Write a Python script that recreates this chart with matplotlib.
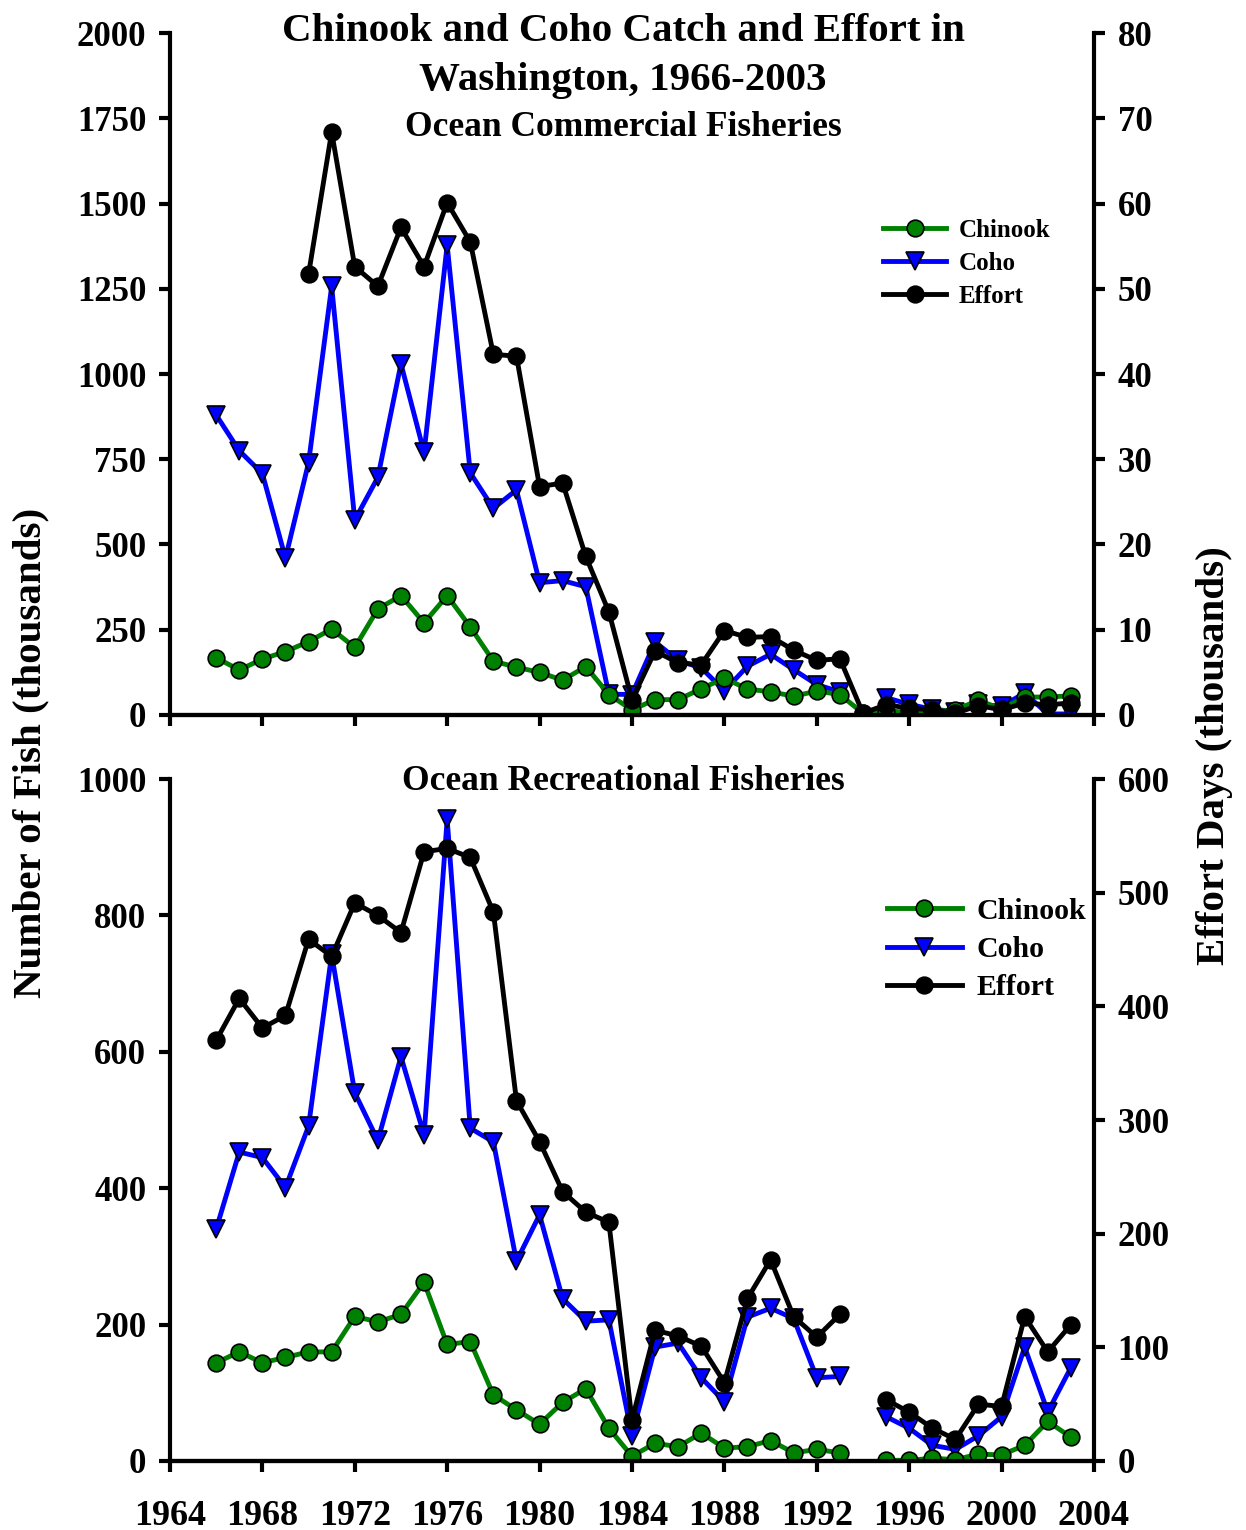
import numpy as np
import matplotlib
matplotlib.use("Agg")
import matplotlib.pyplot as plt

plt.rcParams['font.family'] = ['Liberation Serif', 'DejaVu Serif']
plt.rcParams['font.weight'] = 'bold'

years = list(range(1966, 2004))
nan = np.nan

# Ocean commercial fisheries (catch in thousands of fish, effort in thousands of days)
com_chinook = [168, 132, 164, 186, 215, 252, 198, 311, 350, 270, 350, 258, 158, 140,
               125, 102, 142, 60, 15, 45, 45, 77, 108, 76, 68, 55, 70, 60,
               5, 12, 8, 10, 15, 43, 17, 52, 53, 56]
com_coho = [880, 775, 708, 460, 740, 1257, 572, 697, 1030, 770, 1378, 710, 606, 660,
            388, 394, 376, 61, 60, 214, 160, 138, 71, 143, 178, 133, 89, 68,
            nan, 51, 31, 17, 10, 31, 26, 64, 3, 3]
com_effort = [nan, nan, nan, nan, 51.7, 68.4, 52.6, 50.3, 57.2, 52.6, 60.1, 55.5, 42.3, 42.1,
              26.8, 27.2, 18.6, 12.1, 1.8, 7.5, 6.1, 5.9, 9.9, 9.1, 9.2, 7.6, 6.4, 6.6,
              0.2, 1.2, 0.8, 0.6, 0.2, 1.1, 0.6, 1.4, 1.2, 1.4]

# Ocean recreational fisheries
rec_chinook = [144, 160, 144, 152, 160, 160, 212, 204, 215, 262, 171, 175, 97, 75,
               54, 86, 106, 48, 7, 26, 21, 41, 19, 21, 30, 12, 17, 12,
               nan, 1, 1, 4, 2, 10, 9, 23, 58, 35]
rec_coho = [340, 453, 445, 401, 491, 743, 540, 470, 593, 478, 941, 488, 468, 293,
            361, 238, 205, 207, 37, 167, 173, 122, 87, 211, 224, 209, 122, 124,
            nan, 65, 48, 23, 17, 37, 65, 167, 72, 137]
rec_effort = [370, 407, 381, 392, 459, 444, 491, 480, 465, 536, 539, 531, 483, 317,
              281, 237, 219, 210, 36, 115, 110, 101, 69, 143, 177, 127, 109, 129,
              nan, 54, 43, 29, 19, 50, 48, 127, 96, 120]

fig = plt.figure(figsize=(12.46, 15.30), dpi=100)
ax1 = fig.add_axes([0.1364, 0.5327, 0.7416, 0.4457])
ax2 = fig.add_axes([0.1364, 0.0451, 0.7416, 0.4457])


def style(ax):
    ax.spines['top'].set_visible(False)
    for s in ['left', 'bottom', 'right']:
        ax.spines[s].set_linewidth(3)
    ax.tick_params(axis='y', width=3, length=8, labelsize=25, direction='out', pad=9)
    ax.tick_params(axis='x', width=3, length=8, labelsize=26, direction='out', pad=20)
    for lab in ax.get_xticklabels() + ax.get_yticklabels():
        lab.set_fontweight('bold')


def panel(ax, chin, coho, eff, ylim, ystep, rlim, rstep, legsize, legloc, labsp, xlabels):
    ax.plot(years, chin, color='#008000', lw=3.5, marker='o', ms=12,
            mfc='#008000', mec='black', mew=1.2, label='Chinook', zorder=3)
    ax.plot(years, coho, color='#0000ff', lw=3.5, marker='v', ms=13,
            mfc='#0000ff', mec='black', mew=1.2, label='Coho', zorder=2)
    ax.set_xlim(1964, 2004)
    ax.set_xticks(range(1964, 2005, 4))
    ax.set_ylim(0, ylim)
    ax.set_yticks(np.arange(0, ylim + 1, ystep))
    if not xlabels:
        ax.set_xticklabels([])
    axr = ax.twinx()
    axr.plot(years, eff, color='black', lw=3.5, marker='o', ms=12,
             mfc='black', mec='black', mew=1.2, label='Effort')
    axr.set_ylim(0, rlim)
    axr.set_yticks(np.arange(0, rlim + 1, rstep))
    axr.set_xlim(1964, 2004)
    style(ax)
    style(axr)
    axr.spines['left'].set_visible(False)
    ax.spines['right'].set_visible(False)
    h1, l1 = ax.get_legend_handles_labels()
    h2, l2 = axr.get_legend_handles_labels()
    axr.legend(h1 + h2, l1 + l2, loc='upper left', bbox_to_anchor=legloc,
               frameon=False, prop={'family': 'Liberation Serif', 'weight': 'bold', 'size': legsize},
               handlelength=2.5, handletextpad=0.5, labelspacing=labsp, borderaxespad=0,
               borderpad=0)
    return axr


panel(ax1, com_chinook, com_coho, com_effort, 2000, 250, 80, 10,
      18, (0.772, 0.728), 0.4, False)
panel(ax2, rec_chinook, rec_coho, rec_effort, 1000, 200, 600, 100,
      21.5, (0.776, 0.826), 0.38, True)

fig.text(0.5, 0.9634, 'Chinook and Coho Catch and Effort in\nWashington, 1966-2003',
         ha='center', va='center', fontsize=29.5, fontweight='bold', linespacing=1.42)
fig.text(0.5, 1 - 128 / 1530, 'Ocean Commercial Fisheries', ha='center', va='center',
         fontsize=25.5, fontweight='bold')
fig.text(0.5, 1 - 782 / 1530, 'Ocean Recreational Fisheries', ha='center', va='center',
         fontsize=25.5, fontweight='bold')
fig.text(0.025, 0.508, 'Number of Fish (thousands)', rotation=90, ha='center', va='center',
         fontsize=29.5, fontweight='bold')
fig.text(0.975, 0.506, 'Effort Days (thousands)', rotation=90, ha='center', va='center',
         fontsize=29.5, fontweight='bold')

fig.savefig('out.png', dpi=100)
